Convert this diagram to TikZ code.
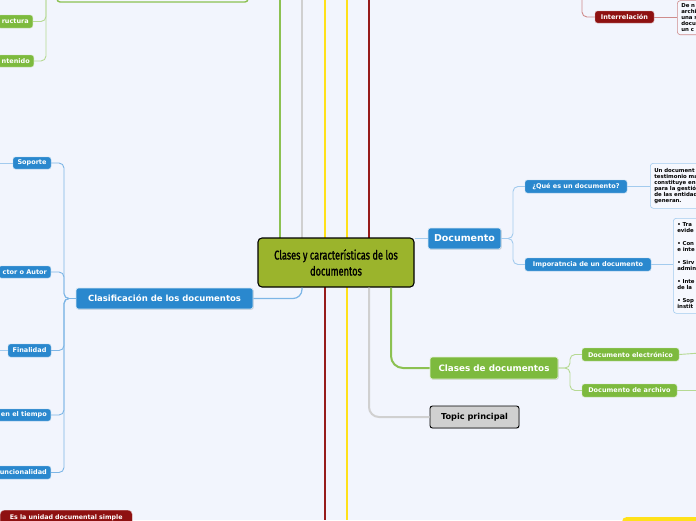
\documentclass[tikz,border=0pt]{standalone}
\usepackage{fontspec}
\setmainfont{DejaVu Sans}
\newfontfamily\condfont[FakeStretch=0.72,FakeBold=1.2]{Fira Sans}
\usetikzlibrary{shadows}
\definecolor{bgc}{HTML}{F2F5FD}
\definecolor{cblue}{HTML}{2A88CE}
\definecolor{lblue}{HTML}{A3CBEE}
\definecolor{mblue}{HTML}{7DB6E6}
\definecolor{cgreen}{HTML}{7DBA3E}
\definecolor{tgreen}{HTML}{8CC152}
\definecolor{lgreen}{HTML}{B6D993}
\definecolor{cred}{HTML}{8E1111}
\definecolor{tred}{HTML}{961B1B}
\definecolor{lred}{HTML}{CF8C8C}
\definecolor{cyell}{HTML}{FFE11A}
\definecolor{cgrey}{HTML}{D3D3D3}
\definecolor{tgrey}{HTML}{D0D0D0}
\definecolor{olive}{HTML}{9BB42C}
\definecolor{boxfill}{HTML}{F6F8FE}
\tikzset{
  shad/.style={drop shadow={shadow xshift=0.7pt,shadow yshift=-0.7pt,opacity=0.3,fill=black!60}},
  base/.style={rounded corners=2.5pt,inner sep=0pt,text=white},
  bigblue/.style={base,shad,fill=cblue,draw=white!80!cblue,line width=0.6pt},
  smallblue/.style={base,fill=cblue,draw=white!60!cblue,line width=0.4pt,font=\fontsize{6.5}{7}\selectfont\bfseries},
  biggreen/.style={base,shad,fill=cgreen,draw=white!80!cgreen,line width=0.6pt},
  smallgreen/.style={base,fill=cgreen,draw=white!60!cgreen,line width=0.4pt,font=\fontsize{6.5}{7}\selectfont\bfseries},
  smallred/.style={base,fill=cred,draw=white!60!cred,line width=0.4pt,font=\fontsize{6.5}{7}\selectfont\bfseries},
  textbox/.style={rounded corners=3pt,fill=boxfill,line width=0.6pt,inner xsep=4pt,inner ysep=3pt,align=left,anchor=north west,font=\fontsize{5.4}{6}\selectfont\bfseries,text=black},
  trunk/.style={line width=2pt},
  thin/.style={line width=0.9pt,rounded corners=5pt},
}
\begin{document}
\begin{tikzpicture}[x=1pt,y=-1pt]
\useasboundingbox (0,0) rectangle (696,520);
\fill[bgc] (0,0) rectangle (696,520);
\clip (0,0) rectangle (696,520);

% coordinates for free ends
\coordinate (tA) at (280,0);
\coordinate (tB) at (302,0);
\coordinate (tC) at (325,0);
\coordinate (tD) at (347,0);
\coordinate (tE) at (369,0);
\coordinate (bA) at (325,520);
\coordinate (bB) at (347,520);
\coordinate (bC) at (369,0);
\coordinate (bD) at (391,0);
\coordinate (gtl) at (46,-10);
\coordinate (rtl) at (582,-10);
\coordinate (sopl) at (0,163);
\coordinate (finl) at (0,350.5);
\coordinate (elr) at (700,353);
\coordinate (arr) at (700,390.5);

% main trunks
\draw[trunk,tgreen,line width=2.4pt] (280,240) -- (tA);
\draw[trunk,tgrey] (302,240) -- (tB);
\draw[trunk,cyell] (325,240) -- (tC);
\draw[trunk,cyell] (347,240) -- (tD);
\draw[trunk,tred,line width=2.3pt] (369,240) -- (tE);
\draw[trunk,tred,line width=2.3pt] (325,280) -- (bA);
\draw[trunk,cyell] (347,280) -- (bB);

% nodes
\node[base,fill=olive,draw=black,line width=1.1pt,rounded corners=4pt,minimum width=156pt,minimum height=49pt,align=center,text=black,font=\condfont\fontsize{12.8}{16}\selectfont] (center) at (336,262.5) {Clases y características de los\\documentos};

\node[bigblue,minimum width=177pt,minimum height=21pt,font=\fontsize{8.5}{9}\selectfont\bfseries] (clasif) at (164.5,298.5) {Clasificación de los documentos};
\node[bigblue,minimum width=73pt,minimum height=21pt,font=\fontsize{9.5}{10}\selectfont\bfseries] (doc) at (464.5,238.5) {Documento};
\node[smallblue,minimum width=102pt,minimum height=13pt] (que) at (576,186.5) {¿Qué es un documento?};
\node[smallblue,minimum width=126pt,minimum height=13pt] (imp) at (588,264.5) {Imporatncia de un documento};
\node[biggreen,minimum width=128pt,minimum height=22pt,font=\fontsize{8.8}{9}\selectfont\bfseries] (clases) at (494,368) {Clases de documentos};
\node[smallgreen,minimum width=97pt,minimum height=13pt] (elec) at (630.5,354.5) {Documento electrónico};
\node[smallgreen,minimum width=95pt,minimum height=13pt] (arch) at (629.5,390.5) {Documento de archivo};
\node[base,shad,fill=tgrey,draw=black,line width=0.9pt,minimum width=89pt,minimum height=22pt,text=black,font=\fontsize{8.2}{9}\selectfont\bfseries] (topic) at (474.5,417) {Topic principal};

\node[smallblue,minimum width=38pt,minimum height=12pt] (sop) at (32,163) {Soporte};
\node[smallblue,anchor=east,minimum height=12pt,inner xsep=4pt] (prod) at (51,272) {ctor o Autor};
\node[smallblue,minimum width=43pt,minimum height=13pt] (fin) at (29.5,350.5) {Finalidad};
\node[smallblue,anchor=east,minimum height=12pt,inner xsep=4pt] (tiem) at (51,415) {en el tiempo};
\node[smallblue,anchor=east,minimum height=13pt,inner xsep=4pt] (func) at (51,472.5) {uncionalidad};

\node[smallgreen,anchor=east,minimum height=13pt,inner xsep=4pt] (estr) at (33,21.5) {ructura};
\node[smallgreen,anchor=east,minimum height=12pt,inner xsep=4pt] (cont) at (34,61) {ntenido};
\node[base,fill=boxfill,draw=tgreen,line width=1.4pt,rounded corners=3pt,minimum width=191pt,minimum height=24pt] (topg) at (152.5,-10) {};

\node[smallred,minimum width=59pt,minimum height=12pt] (inter) at (624.5,17) {Interrelación};
\node[smallred,anchor=north west,minimum width=132pt,minimum height=16pt,rounded corners=4pt,font=\fontsize{6.3}{7}\selectfont\bfseries] (unidad) at (0,510) {Es la unidad documental simple};

\node[base,fill=cyell,rounded corners=4pt,anchor=north west,minimum width=100pt,minimum height=20pt] (ybox) at (622,517) {};

% text boxes
\node[textbox,draw=lblue,text width=62pt,minimum height=45pt] (queT) at (650,163) {Un document\\testimonio ma\\constituye en\\para la gestió\\de las entidad\\generan.};
\node[textbox,draw=lblue,text width=45pt,minimum height=95pt] (impT) at (673,218) {• Tra\\evide\\[7pt]• Con\\e inte\\[7pt]• Sirv\\admin\\[7pt]• Inte\\de la\\[7pt]• Sop\\instit};
\node[textbox,draw=lred,anchor=south west,text width=40pt] (interT) at (677,35) {De n\\archi\\una s\\docu\\un c};

% connectors from center
\draw[trunk,tgrey,rounded corners=10pt] (center.south -| bC) -- (369,417) -- (topic.west);
\draw[trunk,tgreen,rounded corners=12pt] (center.south -| bD) -- (391,368) -- (clases.west);
\draw[line width=1.2pt,mblue,rounded corners=9pt] (center.south -| tB) -- (302,298.5) -- (clasif.east);
\draw[line width=1.2pt,lblue] (doc.west -| center.east) -- (doc.west);

% blue left children
\draw[thin,mblue] (clasif.west) -- (64,298.5) |- (sop.east);
\draw[thin,mblue] (clasif.west) -- (64,298.5) |- (prod.east);
\draw[thin,mblue] (clasif.west) -- (64,298.5) |- (fin.east);
\draw[thin,mblue] (clasif.west) -- (64,298.5) |- (tiem.east);
\draw[thin,mblue] (clasif.west) -- (64,298.5) |- (func.east);
\draw[thin,lblue] (sop.west) -- (sopl);
\draw[thin,lblue] (fin.west) -- (finl);

% documento children
\draw[thin,lblue] (doc.east) -- (513,238.5) |- (que.west);
\draw[thin,lblue] (doc.east) -- (513,238.5) |- (imp.west);
\draw[thin,lblue] (que.east) -- (queT.west |- que.east);
\draw[thin,lblue] (imp.east) -- (impT.west |- imp.east);

% clases children
\draw[thin,lgreen] (clases.east) -- (570,368) |- (elec.west);
\draw[thin,lgreen] (clases.east) -- (570,368) |- (arch.west);
\draw[thin,lgreen] (elec.east) -- (elr);
\draw[thin,lgreen] (arch.east) -- (arr);

% green top-left
\draw[thin,lgreen] (gtl) |- (estr.east);
\draw[thin,lgreen] (gtl) |- (cont.east);

% red top-right
\draw[thin,lred] (rtl) |- (inter.west);
\draw[thin,lred] (inter.east) -- (interT.west |- inter.east);
\end{tikzpicture}
\end{document}
